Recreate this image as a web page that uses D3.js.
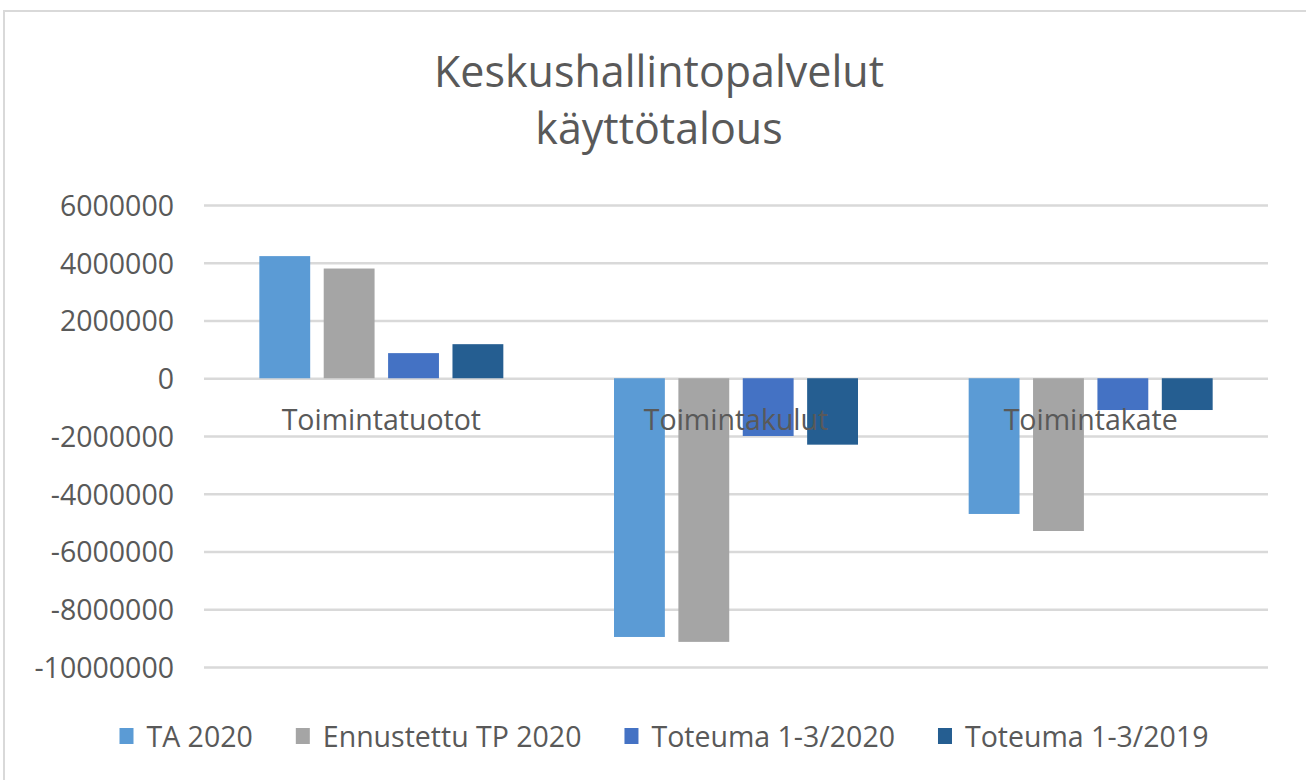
<!DOCTYPE html>
<html lang="fi">
<head>
<meta charset="UTF-8">
<script src="https://cdn.jsdelivr.net/npm/d3@7"></script>
<style>
  body { margin: 0; background: #fff; }
  svg text { font-family: "Open Sans", sans-serif; fill: #595959; }
</style>
</head>
<body>
<svg width="1306" height="780"></svg>
<script>
// chart data
var categories = ["Toimintatuotot", "Toimintakulut", "Toimintakate"];
var seriesNames = ["TA 2020", "Ennustettu TP 2020", "Toteuma 1-3/2020", "Toteuma 1-3/2019"];
var ta2020 = [4230000, -8960000, -4700000];
var ennustettu2020 = [3800000, -9130000, -5290000];
var toteuma2020 = [870000, -2000000, -1100000];
var toteuma2019 = [1180000, -2300000, -1100000];
var yTicks = [6000000, 4000000, 2000000, 0, -2000000, -4000000, -6000000, -8000000, -10000000];
var titleLines = ["Keskushallintopalvelut", "käyttötalous"];

var colours = ["#5B9BD5", "#A5A5A5", "#4472C4", "#255E91"];
var seriesValues = [ta2020, ennustettu2020, toteuma2020, toteuma2019];

function main() {
  var svg = d3.select("svg");

  // outer chart frame (only top + left edges are in view)
  svg.append("rect")
    .attr("x", 4).attr("y", 11)
    .attr("width", 1400).attr("height", 900)
    .attr("fill", "#fff")
    .attr("stroke", "#d9d9d9")
    .attr("stroke-width", 2);

  // title
  svg.append("g").selectAll("text")
    .data(titleLines)
    .enter().append("text")
    .attr("x", 659)
    .attr("y", function(d, i) { return 87 + i * 57; })
    .attr("text-anchor", "middle")
    .style("font-size", "43px")
    .text(function(d) { return d; });

  var plotLeft = 204, plotRight = 1268, plotTop = 205, plotBottom = 667;

  var y = d3.scaleLinear()
    .domain([-10000000, 6000000])
    .range([plotBottom, plotTop]);

  var x0 = d3.scaleBand()
    .domain(categories)
    .range([plotLeft, plotRight]);

  var bw = x0.bandwidth();
  var x1 = d3.scaleBand()
    .domain(seriesNames)
    .range([bw / 2 - 122, bw / 2 + 122])
    .paddingInner(0.21);

  // y axis with gridlines
  var yAxis = svg.append("g")
    .attr("transform", "translate(" + plotLeft + ",0)")
    .call(d3.axisLeft(y)
      .tickValues(yTicks)
      .tickSize(-(plotRight - plotLeft))
      .tickPadding(30)
      .tickFormat(function(d) { return String(d); }));

  yAxis.select(".domain").remove();
  yAxis.selectAll(".tick line")
    .attr("stroke", "#d9d9d9")
    .attr("stroke-width", 2.5);
  yAxis.selectAll(".tick text")
    .attr("fill", "#595959")
    .style("font-size", "28.5px")
    .attr("dy", "0.36em");

  // bars
  var groups = svg.append("g").selectAll("g")
    .data(categories)
    .enter().append("g")
    .attr("transform", function(d) { return "translate(" + x0(d) + ",0)"; });

  groups.selectAll("rect")
    .data(function(c, ci) {
      return seriesNames.map(function(s, si) {
        return { series: s, idx: si, value: seriesValues[si][ci] };
      });
    })
    .enter().append("rect")
    .attr("x", function(d) { return x1(d.series); })
    .attr("width", x1.bandwidth())
    .attr("y", function(d) { return Math.min(y(d.value), y(0)); })
    .attr("height", function(d) { return Math.abs(y(d.value) - y(0)); })
    .attr("fill", function(d) { return colours[d.idx]; });

  // category labels sit just under the zero line, over the bars
  svg.append("g").selectAll("text")
    .data(categories)
    .enter().append("text")
    .attr("x", function(d) { return x0(d) + bw / 2; })
    .attr("y", y(0) + 52)
    .attr("text-anchor", "middle")
    .style("font-size", "28.5px")
    .text(function(d) { return d; });

  // legend
  var legend = svg.append("g");
  var items = legend.selectAll("g")
    .data(seriesNames)
    .enter().append("g");

  items.append("rect")
    .attr("width", 14).attr("height", 16)
    .attr("y", -19)
    .attr("fill", function(d, i) { return colours[i]; });

  items.append("text")
    .attr("x", 27)
    .style("font-size", "28.5px")
    .text(function(d) { return d; });

  var pos = 0;
  items.each(function() {
    var g = d3.select(this);
    g.attr("transform", "translate(" + pos + ",0)");
    pos += 27 + g.select("text").node().getComputedTextLength() + 43;
  });
  var total = pos - 43;
  legend.attr("transform", "translate(" + (664 - total / 2) + ",747)");
}

main();
</script>
</body>
</html>
